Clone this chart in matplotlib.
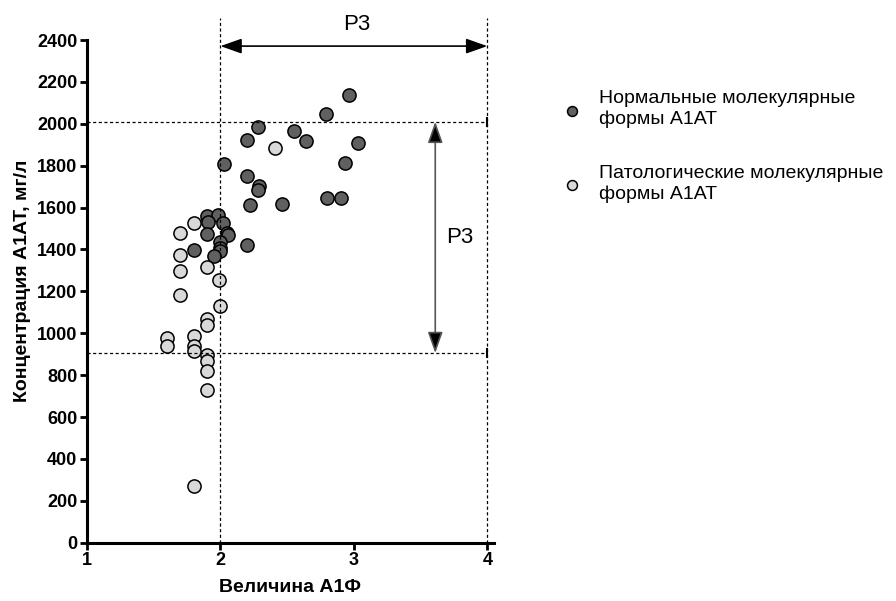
import numpy as np
import matplotlib.pyplot as plt

plt.rcParams['font.family'] = ['Liberation Sans', 'DejaVu Sans']

# нормальные молекулярные формы A1AT
norm_x = [2.96, 2.79, 2.28, 2.55, 2.20, 2.64, 3.03, 2.03, 2.93, 2.20, 2.29, 2.28,
          2.22, 2.46, 2.80, 2.90, 1.90, 1.98, 1.91, 2.02, 1.90, 2.05, 2.06, 2.00,
          2.20, 2.00, 1.80, 2.00, 1.95]
norm_y = [2138, 2045, 1983, 1968, 1925, 1917, 1908, 1809, 1812, 1752, 1701, 1682,
          1610, 1618, 1645, 1645, 1559, 1564, 1532, 1528, 1475, 1477, 1470, 1434,
          1420, 1405, 1399, 1392, 1370]

# патологические молекулярные формы A1AT
pat_x = [2.41, 1.80, 1.70, 1.70, 1.90, 1.70, 1.99, 1.70, 2.00, 1.90, 1.90, 1.60,
         1.60, 1.80, 1.80, 1.80, 1.90, 1.90, 1.90, 1.90, 1.80]
pat_y = [1884, 1526, 1477, 1372, 1317, 1298, 1254, 1184, 1131, 1068, 1038, 976,
         939, 988, 939, 917, 897, 866, 820, 727, 271]

x_ticks = [1, 2, 3, 4]
y_ticks = list(range(0, 2401, 200))
ref_x = [2, 4]        # границы РЗ по A1Ф
ref_y = [905, 2010]   # границы РЗ по A1AT

fig = plt.figure(figsize=(8.96, 6.01), dpi=100)
ax = fig.add_axes([0.0971, 0.097, 0.4542, 0.873])

ax.scatter(norm_x, norm_y, s=90, c='#606060', edgecolors='black', linewidths=1.1,
           zorder=3, label='Нормальные молекулярные\nформы А1АТ')
ax.scatter(pat_x, pat_y, s=90, c='#d9d9d9', edgecolors='black', linewidths=1.1,
           zorder=3, label='Патологические молекулярные\nформы А1АТ')

dash = (0, (2.5, 2))
for xv in ref_x:
    ax.plot([xv, xv], [0, 2505], color='black', ls=dash, lw=0.9, zorder=4, clip_on=False)
for yv in ref_y:
    ax.plot([1, 4], [yv, yv], color='black', ls=dash, lw=0.9, zorder=4, clip_on=False)
    ax.plot([4, 4], [yv - 20, yv + 20], color='black', lw=1.5, zorder=4, clip_on=False)

arrow = '<|-|>,head_length=0.65,head_width=0.23'
ax.annotate('', xy=(4, 2371), xytext=(2, 2371),
            arrowprops=dict(arrowstyle=arrow, color='black', lw=1.2, mutation_scale=20,
                            shrinkA=0, shrinkB=0))
ax.text(3.02, 2476, 'Р3', ha='center', va='center', fontsize=16)
ax.annotate('', xy=(3.61, 905), xytext=(3.61, 2010),
            arrowprops=dict(arrowstyle=arrow, fc='black', ec='#555555', lw=1.2,
                            mutation_scale=20, shrinkA=0, shrinkB=0))
ax.text(3.79, 1455, 'Р3', ha='center', va='center', fontsize=16)

ax.set_xlim(1, 4.05)
ax.set_ylim(0, 2505)
ax.set_xticks(x_ticks)
ax.set_yticks(y_ticks)
for s in ['top', 'right']:
    ax.spines[s].set_visible(False)
ax.spines['left'].set_bounds(0, 2400)
ax.spines['left'].set_linewidth(2.2)
ax.spines['bottom'].set_linewidth(2.2)
ax.tick_params(direction='out', length=5, width=2, labelsize=13, pad=2)
for lab in ax.get_xticklabels() + ax.get_yticklabels():
    lab.set_fontweight('bold')

ax.set_xlabel('Величина А1Ф', fontsize=14, fontweight='bold', labelpad=7)
ax.set_ylabel('Концентрация А1АТ, мг/л', fontsize=14, fontweight='bold', labelpad=4)

leg = ax.legend(loc='upper left', bbox_to_anchor=(0.606, 0.866), bbox_transform=fig.transFigure,
                frameon=False, fontsize=14, markerscale=0.75, labelspacing=1.9,
                handletextpad=0.4, borderpad=0)
for t in leg.get_texts():
    t.set_linespacing(1.25)

fig.savefig('out.png', dpi=100)
